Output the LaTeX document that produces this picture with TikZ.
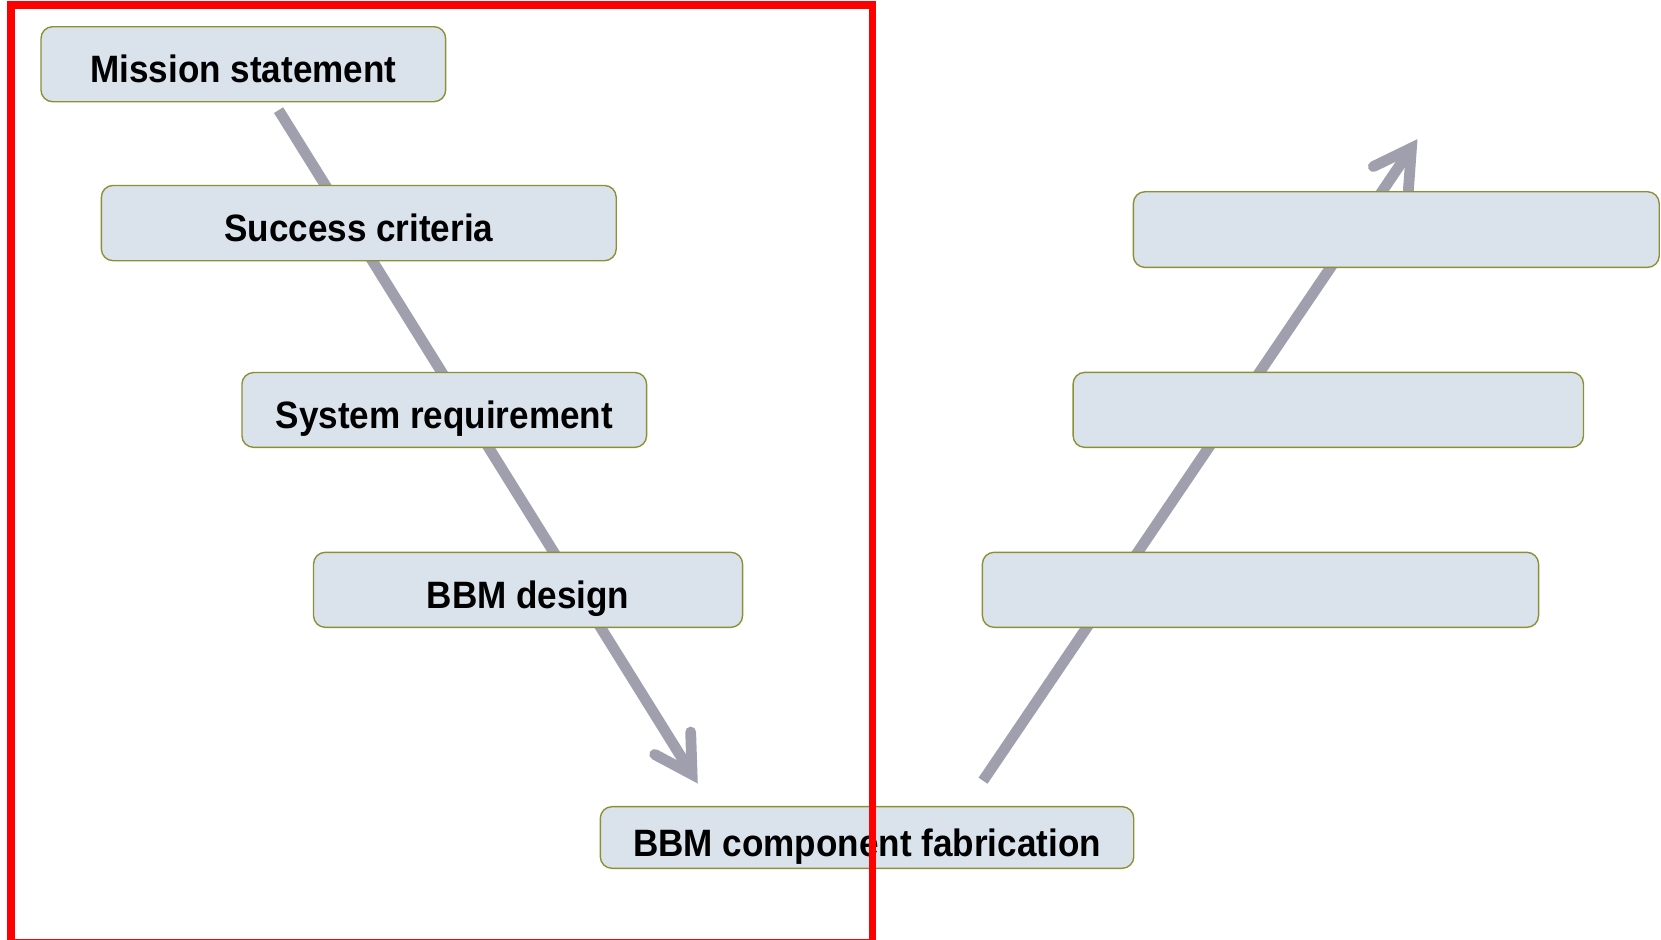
\documentclass[tikz,border=0pt]{standalone}
\usepackage{fontspec}
\newfontfamily\boxfont{Liberation Sans}[FakeStretch=0.92]
\usetikzlibrary{calc}

\definecolor{boxfill}{RGB}{218,227,236}
\definecolor{boxedge}{RGB}{140,144,52}
\definecolor{flowgray}{RGB}{160,159,174}
\definecolor{framered}{RGB}{255,0,0}

\tikzset{
  stepbox/.style={draw=boxedge, line width=0.65pt, fill=boxfill,
    rounded corners=5.5pt, inner sep=0pt, anchor=center,
    font=\boxfont\bfseries\fontsize{18}{20}\selectfont,
    text height=17.6pt, text depth=0pt},
  flowline/.style={draw=flowgray, line width=5.1pt, line cap=butt},
  flowhead/.style={draw=flowgray, line width=5.1pt, line cap=round, line join=miter, miter limit=10},
  frame/.style={draw=framered, line width=3.5pt}
}

\begin{document}
\begin{tikzpicture}[x=0.5pt, y=-0.5pt]
\useasboundingbox (0,0) rectangle (1568,887);

% descending and ascending flow arrows (behind the boxes)
\coordinate (downstart) at (263,104);
\coordinate (downtip)   at (658.6,739.5);
\coordinate (upstart)   at (928,737);
\coordinate (uptip)     at (1338,131.5);

\coordinate (downvert) at ($(downtip)!5pt!(downstart)$);
\coordinate (upvert)   at ($(uptip)!5pt!(upstart)$);

\draw[flowline] (downstart) -- (downvert);
\draw[flowhead] ($(downvert)!20pt!30:(downstart)$) -- (downvert) -- ($(downvert)!20pt!-30:(downstart)$);

\draw[flowline] (upstart) -- (upvert);
\draw[flowhead] ($(upvert)!20pt!30:(upstart)$) -- (upvert) -- ($(upvert)!20pt!-30:(upstart)$);

% process steps
\node[stepbox, minimum width=191pt, minimum height=35.4pt] (mission) at (229.7,60.6) {Mission statement};
\node[stepbox, minimum width=243pt, minimum height=35.5pt] (success) at (338.7,210.6) {Success criteria};
\node[stepbox, minimum width=191pt, minimum height=35.3pt] (sysreq)  at (419.4,387) {System requirement};
\node[stepbox, minimum width=202.5pt, minimum height=35.4pt] (design) at (498.5,556.8) {BBM design};
\node[stepbox, minimum width=251.8pt, minimum height=29.1pt] (fab)    at (818.5,790.6) {BBM component fabrication};

\node[stepbox, minimum width=248.2pt, minimum height=35.7pt] (rtop) at (1318.1,216.7) {};
\node[stepbox, minimum width=240.9pt, minimum height=35.4pt] (rmid) at (1253.9,386.9) {};
\node[stepbox, minimum width=262.5pt, minimum height=35.4pt] (rlow) at (1189.9,556.8) {};

% highlight frame around the left branch
\draw[frame] (10.4,4.7) rectangle (823.5,889.5);
\end{tikzpicture}
\end{document}
